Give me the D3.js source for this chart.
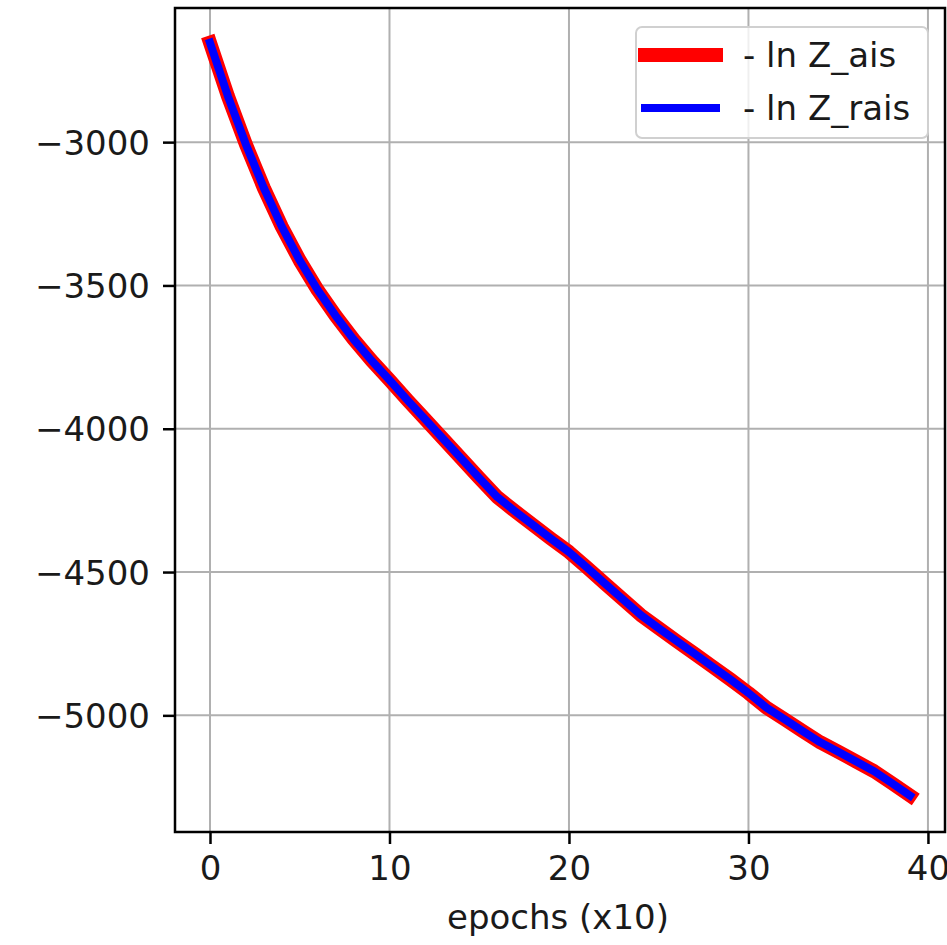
<!DOCTYPE html>
<html>
<head>
<meta charset="utf-8">
<script src="https://cdn.jsdelivr.net/npm/d3@7"></script>
<style>
  html, body { margin: 0; padding: 0; background: #fff; }
  text { font-family: "DejaVu Sans", sans-serif; fill: #1a1a1a; }
</style>
</head>
<body>
<div id="canvas"></div>
<script>
// values
var epochs = [0,1,2,3,4,5,6,7,8,9,10,11,12,13,14,15,16,17,18,19,
              20,21,22,23,24,25,26,27,28,29,30,31,32,33,34,35,36,37,38,39];
var lnZais = [-2653,-2840,-3008,-3160,-3295,-3413,-3516,-3606,-3688,-3762,
              -3830,-3900,-3968,-4036,-4104,-4172,-4238,-4288,-4336,-4384,
              -4430,-4484,-4540,-4595,-4650,-4696,-4741,-4785,-4830,-4875,
              -4922,-4973,-5013,-5054,-5094,-5127,-5161,-5195,-5237,-5280];
var lnZrais = [-2653,-2840,-3008,-3160,-3295,-3413,-3516,-3606,-3688,-3762,
               -3830,-3900,-3968,-4036,-4104,-4172,-4238,-4288,-4336,-4384,
               -4430,-4484,-4540,-4595,-4650,-4696,-4741,-4785,-4830,-4875,
               -4922,-4973,-5013,-5054,-5094,-5127,-5161,-5195,-5237,-5280];
var xTicks = [0, 10, 20, 30, 40];
var yTicks = [-3000, -3500, -4000, -4500, -5000];
var seriesNames = ["- ln Z_ais", "- ln Z_rais"];

var width = 947;
var height = 945;
var pLeft = 175, pRight = 945, pTop = 8, pBottom = 832;
var fontsize = 34;

var svg = d3.select("#canvas").append("svg")
        .attr("width", width)
        .attr("height", height);

var x = d3.scaleLinear().domain([-1.95, 40.95]).range([pLeft, pRight]);
var y = d3.scaleLinear().domain([-5407, -2532]).range([pBottom, pTop]);

// grid
var grid = svg.append("g");
grid.selectAll("line.gx").data(xTicks).enter().append("line")
    .attr("x1", function (d) { return x(d); })
    .attr("x2", function (d) { return x(d); })
    .attr("y1", pTop).attr("y2", pBottom)
    .style("stroke", "#b0b0b0").style("stroke-width", 2);
grid.selectAll("line.gy").data(yTicks).enter().append("line")
    .attr("x1", pLeft).attr("x2", pRight)
    .attr("y1", function (d) { return y(d); })
    .attr("y2", function (d) { return y(d); })
    .style("stroke", "#b0b0b0").style("stroke-width", 2);

// curves
var line = d3.line()
    .x(function (d, i) { return x(epochs[i]); })
    .y(function (d) { return y(d); });

svg.append("path").datum(lnZais)
    .attr("d", line)
    .style("fill", "none").style("stroke", "red").style("stroke-width", 14)
    .style("stroke-linejoin", "round").style("stroke-linecap", "square");
svg.append("path").datum(lnZrais)
    .attr("d", line)
    .style("fill", "none").style("stroke", "blue").style("stroke-width", 8)
    .style("stroke-linejoin", "round").style("stroke-linecap", "square");

// axes
var xAxis = svg.append("g")
    .attr("transform", "translate(0," + pBottom + ")")
    .call(d3.axisBottom(x).tickValues(xTicks).tickSize(12).tickPadding(10).tickSizeOuter(0));
var yAxis = svg.append("g")
    .attr("transform", "translate(" + pLeft + ",0)")
    .call(d3.axisLeft(y).tickValues(yTicks).tickSize(12).tickPadding(13).tickSizeOuter(0)
        .tickFormat(function (d) { return "\u2212" + Math.abs(d); }));
[xAxis, yAxis].forEach(function (a) {
    a.select(".domain").remove();
    a.selectAll(".tick line").style("stroke", "#000").style("stroke-width", 2.5);
    a.selectAll(".tick text").attr("font-size", fontsize)
        .style("font-family", "DejaVu Sans").style("fill", "#1a1a1a");
});
xAxis.selectAll(".tick text").attr("dy", "0.71em").attr("y", 24);
yAxis.selectAll(".tick text").attr("dy", "0.36em");

// frame
svg.append("rect")
    .attr("x", pLeft).attr("y", pTop)
    .attr("width", pRight - pLeft).attr("height", pBottom - pTop)
    .style("fill", "none").style("stroke", "#000").style("stroke-width", 2.5);

svg.append("text")
    .attr("x", (pLeft + pRight) / 2 - 2)
    .attr("y", 929)
    .attr("text-anchor", "middle")
    .attr("font-size", fontsize)
    .text("epochs (x10)");

// legend
var legend = svg.append("g");
legend.append("rect")
    .attr("x", 636).attr("y", 27).attr("width", 292).attr("height", 111)
    .attr("rx", 6).attr("ry", 6)
    .style("fill", "#fff").style("fill-opacity", 0.8)
    .style("stroke", "#d0d0d0").style("stroke-width", 2);
var legendColors = ["red", "blue"];
var legendWidths = [14, 8];
var legendY = [55, 108];
legend.selectAll("line.lg").data(seriesNames).enter().append("line")
    .attr("x1", 645).attr("x2", 716)
    .attr("y1", function (d, i) { return legendY[i]; })
    .attr("y2", function (d, i) { return legendY[i]; })
    .style("stroke", function (d, i) { return legendColors[i]; })
    .style("stroke-width", function (d, i) { return legendWidths[i]; })
    .style("stroke-linecap", "square");
legend.selectAll("text.lg").data(seriesNames).enter().append("text")
    .attr("x", 743)
    .attr("y", function (d, i) { return legendY[i] + 12; })
    .attr("font-size", fontsize)
    .text(function (d) { return d; });
</script>
</body>
</html>
